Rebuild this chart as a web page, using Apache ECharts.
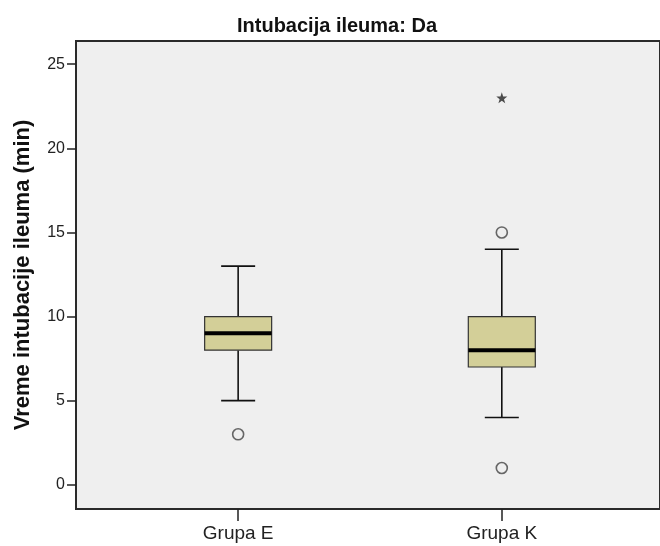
<!DOCTYPE html>
<html>
<head>
<meta charset="utf-8">
<script src="https://cdn.jsdelivr.net/npm/echarts@6/dist/echarts.min.js"></script>
<style>
html,body{margin:0;padding:0;background:#fff;}
#chart{width:660px;height:546px;}
</style>
</head>
<body>
<div id="chart"></div>
<script>
// ---- data ----
const categories = ['Grupa E', 'Grupa K'];
const whiskerLow = [5, 4];
const q1 = [8, 7];
const median = [9, 8];
const q3 = [10, 10];
const whiskerHigh = [13, 14];
const outlierGroup = [0, 1, 1];
const outlierValue = [3, 15, 1];
const extremeGroup = [1];
const extremeValue = [23];
const yTicks = [0, 5, 10, 15, 20, 25];
const titleText = 'Intubacija ileuma: Da';
const yAxisName = 'Vreme intubacije ileuma (min)';

// ---- build ----
const boxData = categories.map((c, i) => [i, whiskerLow[i], q1[i], median[i], q3[i], whiskerHigh[i]]);
const outlierData = outlierGroup.map((g, i) => [g, outlierValue[i]]);
const extremeData = extremeGroup.map((g, i) => [g, extremeValue[i]]);

const BOX_W = 67, CAP_W = 34;
function renderBox(params, api) {
  const i = api.value(0);
  const pLow = api.coord([i, api.value(1)]);
  const pQ1 = api.coord([i, api.value(2)]);
  const pMed = api.coord([i, api.value(3)]);
  const pQ3 = api.coord([i, api.value(4)]);
  const pHigh = api.coord([i, api.value(5)]);
  const x = pLow[0];
  const lineStyle = { stroke: '#111', lineWidth: 1.6 };
  return {
    type: 'group',
    children: [
      { type: 'line', shape: { x1: x, y1: pLow[1], x2: x, y2: pQ1[1] }, style: lineStyle },
      { type: 'line', shape: { x1: x, y1: pQ3[1], x2: x, y2: pHigh[1] }, style: lineStyle },
      { type: 'line', shape: { x1: x - CAP_W / 2, y1: pLow[1], x2: x + CAP_W / 2, y2: pLow[1] }, style: lineStyle },
      { type: 'line', shape: { x1: x - CAP_W / 2, y1: pHigh[1], x2: x + CAP_W / 2, y2: pHigh[1] }, style: lineStyle },
      { type: 'rect', shape: { x: x - BOX_W / 2, y: pQ3[1], width: BOX_W, height: pQ1[1] - pQ3[1] },
        style: { fill: '#d3cf98', stroke: '#333', lineWidth: 1.2 } },
      { type: 'line', shape: { x1: x - BOX_W / 2, y1: pMed[1], x2: x + BOX_W / 2, y2: pMed[1] },
        style: { stroke: '#000', lineWidth: 4 } }
    ]
  };
}

const chart = echarts.init(document.getElementById('chart'), null, { renderer: 'canvas' });
chart.setOption({
  animation: false,
  backgroundColor: '#ffffff',
  title: {
    text: titleText,
    left: 332, top: 11, textAlign: 'center',
    textStyle: { fontFamily: 'Liberation Sans, Arial, sans-serif', fontWeight: 'bold', fontSize: 20, color: '#111' }
  },
  grid: {
    left: 76, right: -2, top: 41, bottom: 37,
    show: true, backgroundColor: '#efefef', borderColor: '#2a2a2a', borderWidth: 2
  },
  xAxis: {
    type: 'value', min: -0.615, max: 1.6,
    axisLine: { show: true, onZero: false, lineStyle: { color: '#2a2a2a', width: 2 } },
    axisTick: { show: true, customValues: [0, 1], length: 12, lineStyle: { color: '#222', width: 1.5 } },
    axisLabel: {
      customValues: [0, 1], margin: 15,
      formatter: v => categories[Math.round(v)] || '',
      fontFamily: 'Liberation Sans, Arial, sans-serif', fontSize: 19, color: '#222'
    },
    splitLine: { show: false }
  },
  yAxis: {
    type: 'value', min: -1.44, max: 26.38,
    name: yAxisName, nameLocation: 'middle', nameGap: 42,
    nameTextStyle: { fontFamily: 'Liberation Sans, Arial, sans-serif', fontWeight: 'bold', fontSize: 22, color: '#111' },
    axisLine: { show: true, onZero: false, lineStyle: { color: '#2a2a2a', width: 2 } },
    axisTick: { show: true, customValues: yTicks, length: 9, lineStyle: { color: '#222', width: 1.5 } },
    axisLabel: {
      customValues: yTicks, margin: 11,
      fontFamily: 'Liberation Sans, Arial, sans-serif', fontSize: 16, color: '#222'
    },
    splitLine: { show: false }
  },
  series: [
    {
      type: 'custom', renderItem: renderBox, data: boxData,
      encode: { x: 0, y: [1, 2, 3, 4, 5] }, z: 2
    },
    {
      type: 'scatter', data: outlierData, symbol: 'circle', symbolSize: 11, z: 3,
      itemStyle: { color: 'rgba(0,0,0,0)', borderColor: '#444', borderWidth: 1.6 }
    },
    {
      type: 'scatter', data: extremeData, z: 3, symbolSize: 11,
      symbol: 'path://M0,-10 L2.35,-3.24 L9.51,-3.09 L3.8,1.24 L5.88,8.09 L0,4 L-5.88,8.09 L-3.8,1.24 L-9.51,-3.09 L-2.35,-3.24 Z',
      itemStyle: { color: '#222' }
    }
  ]
});
</script>
</body>
</html>
